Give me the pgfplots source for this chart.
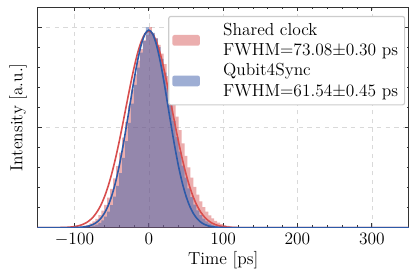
\documentclass[border=0pt]{standalone}
\usepackage{pgfplots}
\pgfplotsset{compat=1.18}
\definecolor{hred}{RGB}{212,76,76}
\definecolor{hblue}{RGB}{62,95,170}
\definecolor{cred}{RGB}{216,78,78}
\definecolor{cblue}{RGB}{45,90,168}
\begin{document}
\begin{tikzpicture}
\begin{axis}[
  scale only axis,
  width=256pt, height=152pt,
  xmin=-150, xmax=350, ymin=0, ymax=1.1,
  xtick={-100,0,100,200,300},
  ytick={0,0.5,1}, yticklabels={},
  minor x tick num=4, minor y tick num=4,
  tick pos=both, tick align=inside,
  major tick length=3pt, minor tick length=1.6pt,
  axis line style={black!80, line width=0.7pt},
  every tick/.style={black!80, line width=0.5pt},
  grid=major,
  major grid style={dashed, black!15, line width=0.4pt},
  tick label style={font=\large},
  label style={font=\large},
  xlabel={Time [ps]}, ylabel={Intensity [a.u.]},
  ylabel style={yshift=-3pt},
  xlabel style={yshift=3pt},
  legend style={font=\large, at={(0.99,0.96)}, anchor=north east, draw=black!20, line width=0.8pt, rounded corners=1.5pt, inner sep=2.5pt, row sep=0pt, cells={align=left}},
  legend cell align=left,
]
\addplot[const plot, fill=hred, fill opacity=0.45, draw=none,
  area legend,
  legend image code/.code={\fill[hred, fill opacity=0.45] (0pt,-3.7pt) rectangle (19pt,3.7pt); \path (33pt,0pt);}]
coordinates {
(-108,0.001) (-104,0.0016) (-100,0.0025) (-96,0.0041) (-92,0.0063) (-88,0.0097) (-84,0.0146) (-80,0.0216)
(-76,0.031) (-72,0.0445) (-68,0.062) (-64,0.085) (-60,0.114) (-56,0.150) (-52,0.194) (-48,0.246)
(-44,0.307) (-40,0.374) (-36,0.449) (-32,0.528) (-28,0.608) (-24,0.689) (-20,0.764) (-16,0.833)
(-12,0.890) (-8,0.934) (-4,0.961) (0,1.0) (4,0.963) (8,0.944) (12,0.911) (16,0.868)
(20,0.816) (24,0.756) (28,0.691) (32,0.623) (36,0.554) (40,0.486) (44,0.420) (48,0.358)
(52,0.301) (56,0.250) (60,0.204) (64,0.165) (68,0.131) (72,0.103) (76,0.080) (80,0.061)
(84,0.046) (88,0.034) (92,0.025) (96,0.018) (100,0.0128) (104,0.009) (108,0.0062) (112,0.0043)
(116,0.003) (120,0.002) (124,0.0013) (128,0)
} \closedcycle;
\addlegendentry{Shared clock\\FWHM=73.08$\pm$0.30 ps}
\addplot[const plot, fill=hblue, fill opacity=0.5, draw=none,
  area legend,
  legend image code/.code={\fill[hblue, fill opacity=0.5] (0pt,-3.7pt) rectangle (19pt,3.7pt); \path (33pt,0pt);}]
coordinates {
(-100,0.0003) (-96,0.0006) (-92,0.0011) (-88,0.002) (-84,0.0035) (-80,0.006) (-76,0.0097) (-72,0.0155)
(-68,0.024) (-64,0.037) (-60,0.055) (-56,0.080) (-52,0.113) (-48,0.155) (-44,0.208) (-40,0.272)
(-36,0.348) (-32,0.432) (-28,0.523) (-24,0.618) (-20,0.712) (-16,0.798) (-12,0.873) (-8,0.931)
(-4,1.0) (0,0.98) (4,0.971) (8,0.944) (12,0.90) (16,0.842) (20,0.773) (24,0.696)
(28,0.615) (32,0.533) (36,0.453) (40,0.379) (44,0.310) (48,0.249) (52,0.196) (56,0.152)
(60,0.115) (64,0.086) (68,0.063) (72,0.045) (76,0.032) (80,0.022) (84,0.0148) (88,0.0098)
(92,0.0064) (96,0.0041) (100,0.0026) (104,0.0016) (108,0.001) (112,0.0006) (116,0.0003) (120,0)
} \closedcycle;
\addlegendentry{Qubit4Sync\\FWHM=61.54$\pm$0.45 ps}
\addplot[cred, line width=1.1pt, smooth, forget plot] coordinates {
(-150,0) (-130,0.0001) (-120,0.0006) (-115,0.001) (-110,0.0018) (-105,0.0032) (-100,0.0054) (-95,0.009)
(-90,0.0146) (-85,0.023) (-80,0.0353) (-75,0.0528) (-70,0.077) (-65,0.109) (-60,0.151) (-55,0.204)
(-50,0.268) (-45,0.343) (-40,0.427) (-35,0.519) (-30,0.614) (-25,0.708) (-20,0.796) (-15,0.872)
(-10,0.930) (-5,0.967) (0,0.98) (5,0.967) (10,0.930) (15,0.872) (20,0.796) (25,0.708)
(30,0.614) (35,0.519) (40,0.427) (45,0.343) (50,0.268) (55,0.204) (60,0.151) (65,0.109)
(70,0.077) (75,0.0528) (80,0.0353) (85,0.023) (90,0.0146) (95,0.009) (100,0.0054) (105,0.0032)
(110,0.0018) (115,0.001) (120,0.0006) (130,0.0001) (150,0) (350,0)
};
\addplot[cblue, line width=1.1pt, smooth, forget plot] coordinates {
(-150,0) (-120,0) (-110,0.0001) (-100,0.0007) (-95,0.0013) (-90,0.0026) (-85,0.005) (-80,0.0091)
(-75,0.016) (-70,0.0273) (-65,0.0446) (-60,0.0705) (-55,0.1075) (-50,0.158) (-45,0.2235) (-40,0.305)
(-35,0.402) (-30,0.510) (-25,0.623) (-20,0.735) (-15,0.835) (-10,0.915) (-5,0.967) (0,0.985)
(5,0.967) (10,0.915) (15,0.835) (20,0.735) (25,0.623) (30,0.510) (35,0.402) (40,0.305)
(45,0.2235) (50,0.158) (55,0.1075) (60,0.0705) (65,0.0446) (70,0.0273) (75,0.016) (80,0.0091)
(85,0.005) (90,0.0026) (95,0.0013) (100,0.0007) (110,0.0001) (120,0) (150,0) (350,0)
};
\end{axis}
\path (current bounding box.south west) ++(-3pt,-3pt);
\path (current bounding box.north east) ++(4.5pt,4.5pt);
\end{tikzpicture}
\end{document}
